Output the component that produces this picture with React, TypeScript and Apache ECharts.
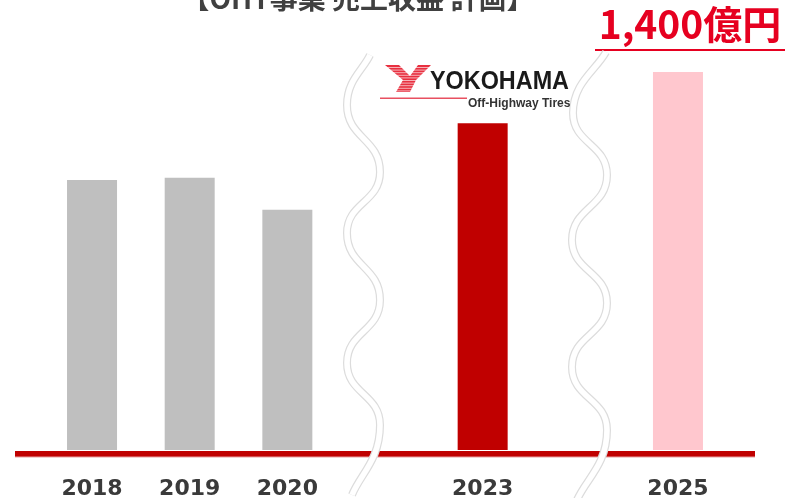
import React, { useEffect, useRef } from "react";
import * as echarts from "echarts";

const categories = ["2018", "2019", "2020", "", "2023", "", "2025"];
const revenue: (number | null)[] = [1000, 1008, 890, null, 1210, null, 1400];
const titleText = "【OHT事業 売上収益 計画】";
const targetText = "1,400億円";
const logoText = "YOKOHAMA";
const logoSub = "Off-Highway Tires";

const barColors = ["#BFBFBF", "#BFBFBF", "#BFBFBF", "#BFBFBF", "#C00000", "#C00000", "#FFC7CE"];

type P = [number, number];
const wave1: P[] = [[370, 55], [347, 105], [380, 172], [347, 233], [380, 300], [347, 363], [380, 425], [352, 495]];
const wave2: P[] = [[606, 52], [573, 113], [607, 175], [572, 240], [607, 303], [572, 367], [607, 430], [577, 500]];

function waveSegs(pts: P[], stroke: string, width: number, z: number) {
  const out: any[] = [];
  for (let i = 0; i < pts.length - 1; i++) {
    const [x1, y1] = pts[i];
    const [x2, y2] = pts[i + 1];
    const dy = y2 - y1;
    let c1: P = [x1, y1 + dy * 0.5];
    let c2: P = [x2, y2 - dy * 0.5];
    if (i === 0) c1 = [x1 + (x2 - x1) * 0.3, y1 + dy * 0.3];
    if (i === pts.length - 2) c2 = [x2 - (x2 - x1) * 0.3, y2 - dy * 0.3];
    out.push({
      type: "bezierCurve",
      z,
      silent: true,
      shape: { x1, y1, x2, y2, cpx1: c1[0], cpy1: c1[1], cpx2: c2[0], cpy2: c2[1] },
      style: { stroke, lineWidth: width, fill: null, lineCap: "butt" },
    });
  }
  return out;
}

export default function App() {
  const ref = useRef<HTMLDivElement>(null);
  useEffect(() => {
    if (!ref.current) return;
    const chart = echarts.init(ref.current, undefined, { renderer: "svg" });
    const stripes: any[] = [];
    for (let y = 67.5; y < 92; y += 2.6) {
      stripes.push({
        type: "line",
        z: 22,
        silent: true,
        shape: { x1: 383, y1: y, x2: 430, y2: y },
        style: { stroke: "rgba(255,255,255,0.7)", lineWidth: 0.9 },
      });
    }
    chart.setOption({
      animation: false,
      grid: { left: 43.2, right: 59.2, top: 72, bottom: 47 },
      xAxis: {
        type: "category",
        data: categories,
        axisLine: { show: false },
        axisTick: { show: false },
        axisLabel: {
          margin: 26,
          fontSize: 22,
          fontWeight: "bold",
          color: "#3A3A3A",
          fontFamily: "DejaVu Sans",
          interval: 0,
        },
      },
      yAxis: { type: "value", min: 0, max: 1400, show: false },
      series: [
        {
          type: "bar",
          barWidth: 50,
          data: revenue.map((v, i) =>
            v == null ? "-" : { value: v, itemStyle: { color: barColors[i] } }
          ),
        },
      ],
      graphic: {
        elements: [
          {
            type: "text",
            z: 5,
            style: {
              x: 358,
              y: -3,
              text: titleText,
              fill: "#404040",
              font: "bold 28px 'Noto Sans CJK JP'",
              textAlign: "center",
              textVerticalAlign: "middle",
            },
          },
          {
            type: "text",
            z: 5,
            style: {
              x: 690,
              y: 22,
              text: targetText,
              fill: "#E60020",
              font: "bold 39px 'Noto Sans CJK JP'",
              lineHeight: 36,
              textAlign: "center",
              textVerticalAlign: "middle",
            },
          },
          {
            type: "rect",
            z: 5,
            shape: { x: 595, y: 49, width: 190, height: 2 },
            style: { fill: "#E60020" },
          },
          {
            type: "rect",
            z: 3,
            shape: { x: 15, y: 451, width: 740, height: 6 },
            style: { fill: "#C00000" },
          },
          {
            type: "rect",
            z: 3,
            shape: { x: 15, y: 456.5, width: 740, height: 1 },
            style: { fill: "#E8A0A0" },
          },
          ...waveSegs(wave1, "#DCDCDC", 8, 10),
          ...waveSegs(wave2, "#DCDCDC", 8, 10),
          ...waveSegs(wave1, "#FFFFFF", 5.6, 11),
          ...waveSegs(wave2, "#FFFFFF", 5.6, 11),
          {
            type: "polygon",
            z: 21,
            silent: true,
            shape: {
              points: [
                [385, 65], [399, 65], [410, 76], [418, 65], [431, 65],
                [416, 80], [410, 92], [396, 92], [403, 80],
              ],
            },
            style: { fill: "#E83040" },
          },
          ...stripes,
          {
            type: "rect",
            z: 21,
            shape: { x: 380, y: 97.5, width: 87, height: 1.5 },
            style: { fill: "#E85060" },
          },
          {
            type: "group",
            x: 430,
            y: 80,
            scaleX: 0.9,
            z: 21,
            children: [
              {
                type: "text",
                z: 21,
                style: {
                  x: 0,
                  y: 0,
                  text: logoText,
                  fill: "#1A1A1A",
                  font: "bold 26px 'Liberation Sans'",
                  textAlign: "left",
                  textVerticalAlign: "middle",
                },
              },
            ],
          },
          {
            type: "text",
            z: 21,
            style: {
              x: 468,
              y: 102.5,
              text: logoSub,
              fill: "#333333",
              font: "bold 12px 'Liberation Sans'",
              textAlign: "left",
              textVerticalAlign: "middle",
            },
          },
        ],
      },
    });
    return () => chart.dispose();
  }, []);
  return (
    <div
      ref={ref}
      style={{ position: "fixed", left: 0, top: 0, width: 786, height: 498 }}
    />
  );
}
